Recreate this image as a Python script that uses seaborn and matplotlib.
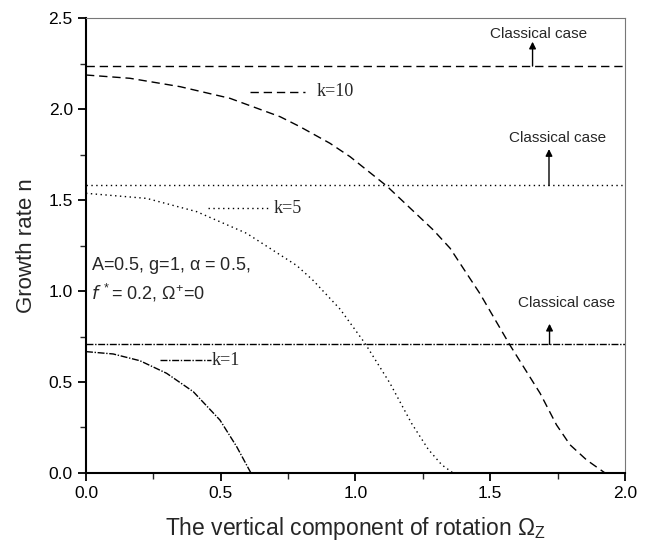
import matplotlib
matplotlib.use("Agg")
import matplotlib.pyplot as plt
import seaborn as sns
import pandas as pd

# values
classical = [2.236, 1.58, 0.707]  # k=10, k=5, k=1

omega_k10 = [0.0, 0.163, 0.349, 0.534, 0.72, 0.794, 0.905, 0.98, 1.116, 1.289,
             1.351, 1.462, 1.573, 1.685, 1.746, 1.796, 1.858, 1.926]
n_k10 = [2.187, 2.169, 2.123, 2.059, 1.958, 1.903, 1.812, 1.738, 1.577, 1.335,
         1.235, 0.985, 0.703, 0.438, 0.264, 0.155, 0.071, 0.0]

omega_k5 = [0.0, 0.225, 0.411, 0.596, 0.782, 0.843, 0.943, 1.035, 1.128, 1.208,
            1.27, 1.32, 1.362]
n_k5 = [1.537, 1.509, 1.436, 1.317, 1.14, 1.058, 0.9, 0.713, 0.493, 0.273,
        0.13, 0.045, 0.0]

omega_k1 = [0.0, 0.101, 0.2, 0.299, 0.398, 0.497, 0.559, 0.612]
n_k1 = [0.667, 0.654, 0.617, 0.548, 0.447, 0.291, 0.145, 0.0]

sns.set_theme(style="ticks")
plt.rcParams['font.family'] = ['Liberation Sans', 'DejaVu Sans']
plt.rcParams['mathtext.default'] = 'regular'

fig = plt.figure(figsize=(6.48, 5.47), dpi=100)
ax = fig.add_axes([0.1327, 0.1353, 0.8318, 0.8317])

dashed = (0, (6, 3.5))
dotted = (0, (1, 2.5))
dashdot = (0, (5, 1.2, 1, 1.2))
styles = [dashed, dotted, dashdot]

curves = [(omega_k10, n_k10), (omega_k5, n_k5), (omega_k1, n_k1)]
for (xs, ys), ls in zip(curves, styles):
    df = pd.DataFrame({"x": xs, "y": ys})
    sns.lineplot(data=df, x="x", y="y", ax=ax, color="black", lw=1.0,
                 linestyle=ls, sort=False)

for val, ls in zip(classical, styles):
    ax.axhline(val, color="black", lw=1.0, linestyle=ls)

# legend-like labels inside the plot
serif = ['Liberation Serif', 'DejaVu Serif']
ax.plot([0.609, 0.813], [2.095, 2.095], color="black", lw=1.0, linestyle=dashed)
ax.text(0.855, 2.095, "k=10", family=serif, fontsize=13, va="center")
ax.plot([0.453, 0.675], [1.456, 1.456], color="black", lw=1.0, linestyle=dotted)
ax.text(0.695, 1.456, "k=5", family=serif, fontsize=13, va="center")
ax.plot([0.275, 0.462], [0.62, 0.62], color="black", lw=1.0, linestyle=dashdot)
ax.text(0.465, 0.62, "k=1", family=serif, fontsize=13, va="center")

# classical case arrows
arrows = [(1.657, 2.236, 2.37, 1.68, 2.41),
          (1.718, 1.58, 1.78, 1.75, 1.84),
          (1.72, 0.707, 0.82, 1.785, 0.935)]
for xa, y0, y1, xt, yt in arrows:
    ax.annotate("", xy=(xa, y1), xytext=(xa, y0),
                arrowprops=dict(arrowstyle="-|>", color="black", lw=1.0,
                                mutation_scale=10, shrinkA=0, shrinkB=0))
    ax.text(xt, yt, "Classical case", fontsize=11, ha="center", va="center")

ax.text(0.02, 1.14, r"A=0.5, g=1, $\alpha$ = 0.5,", fontsize=13, va="center")
ax.text(0.02, 0.99, r"$\mathit{f}^{\,*}$= 0.2, $\Omega^{+}$=0", fontsize=13, va="center")

ax.set_xlim(0, 2.0)
ax.set_ylim(0, 2.5)
ax.set_xticks([0.0, 0.5, 1.0, 1.5, 2.0])
ax.set_yticks([0.0, 0.5, 1.0, 1.5, 2.0, 2.5])
ax.set_xticks([0.25, 0.75, 1.25, 1.75], minor=True)
ax.set_yticks([0.25, 0.75, 1.25, 1.75, 2.25], minor=True)
ax.xaxis.set_major_formatter(matplotlib.ticker.FormatStrFormatter("%.1f"))
ax.yaxis.set_major_formatter(matplotlib.ticker.FormatStrFormatter("%.1f"))
ax.tick_params(axis="both", which="major", direction="out", length=6, width=1.3,
               labelsize=12.5, colors="black")
ax.tick_params(axis="both", which="minor", direction="out", length=4, width=1.0)
for side in ["left", "bottom"]:
    ax.spines[side].set_linewidth(1.5)
    ax.spines[side].set_color("black")
for side in ["top", "right"]:
    ax.spines[side].set_visible(True)
    ax.spines[side].set_linewidth(0.8)
    ax.spines[side].set_color("#777777")

ax.set_xlabel(r"The vertical component of rotation $\Omega_{Z}$", fontsize=16.5, labelpad=10)
ax.set_ylabel("Growth rate n", fontsize=16, labelpad=8)

fig.savefig("out.png", dpi=100)
